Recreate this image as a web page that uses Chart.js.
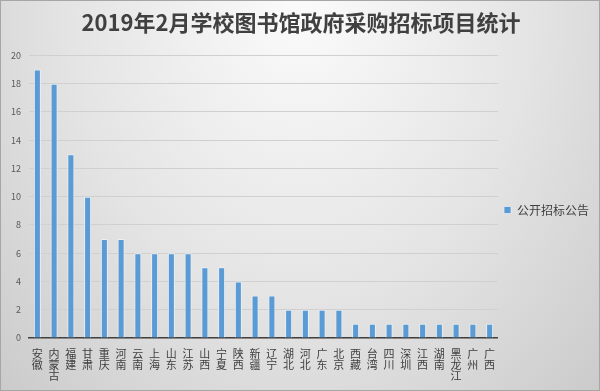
<!DOCTYPE html>
<html>
<head>
<meta charset="utf-8">
<script src="https://cdn.jsdelivr.net/npm/chart.js@4"></script>
<style>
  html, body { margin: 0; padding: 0; }
  #wrap {
    position: relative;
    width: 598px; height: 389px;
    border: 1px solid #a6a6a6;
    background: radial-gradient(ellipse at 50% 0%, #fbfbfb 0%, #e4e4e4 55%, #cbcbcb 100%);
  }
</style>
</head>
<body>
<div id="wrap"><canvas id="chart" width="598" height="389"></canvas></div>
<script>
'use strict';

// ─── 데이터 ──────────────────────────────────────────────
const TITLE = '2019年2月学校图书馆政府采购招标项目统计';
const SERIES_NAME = '公开招标公告';
const REGIONS = ['安徽', '内蒙古', '福建', '甘肃', '重庆', '河南', '云南', '上海', '山东', '江苏',
  '山西', '宁夏', '陕西', '新疆', '辽宁', '湖北', '河北', '广东', '北京', '西藏',
  '台湾', '四川', '深圳', '江西', '湖南', '黑龙江', '广州', '广西'];
const COUNTS = [19, 18, 13, 10, 7, 7, 6, 6, 6, 6,
  5, 5, 4, 3, 3, 2, 2, 2, 2, 1,
  1, 1, 1, 1, 1, 1, 1, 1];
const Y_MAX = 20;
const Y_STEP = 2;

const FONT = '"Noto Sans CJK SC", "Noto Sans", sans-serif';
const BAR_COLOR = '#5b9bd5';

// 세로쓰기: 글자마다 줄바꿈
const labels = REGIONS.map(s => s.split(''));

new Chart(document.getElementById('chart'), {
  type: 'bar',
  data: {
    labels,
    datasets: [{
      label: SERIES_NAME,
      data: COUNTS,
      backgroundColor: BAR_COLOR,
      borderColor: '#e8eef6',
      borderWidth: { left: 1, right: 1, top: 1, bottom: 0 },
      categoryPercentage: 1,
      barPercentage: 0.42
    }]
  },
  options: {
    responsive: false,
    animation: false,
    layout: { padding: { left: 2, right: 0, top: 0, bottom: 7 } },
    plugins: {
      title: {
        display: true,
        text: TITLE,
        color: '#404040',
        font: { family: FONT, size: 22, weight: 'bold' },
        padding: { top: 8, bottom: 20 }
      },
      legend: {
        position: 'right',
        // 빈 제목으로 범례를 약간 아래로 내림
        title: {
          display: true,
          text: '',
          font: { size: 10 },
          padding: { top: 0, bottom: 24 }
        },
        labels: {
          color: '#404040',
          font: { family: FONT, size: 12 },
          boxWidth: 7,
          boxHeight: 7,
          padding: 6
        }
      },
      tooltip: { enabled: false }
    },
    scales: {
      x: {
        grid: { display: false },
        border: { color: '#404040', width: 1.5 },
        ticks: {
          color: '#404040',
          font: { family: FONT, size: 11, lineHeight: 1.0 },
          maxRotation: 0,
          autoSkip: false,
          padding: 2
        }
      },
      y: {
        min: 0,
        max: Y_MAX,
        border: { display: false },
        grid: { color: '#d0d0d0', drawTicks: false },
        ticks: {
          stepSize: Y_STEP,
          color: '#595959',
          font: { family: FONT, size: 9 },
          padding: 8
        }
      }
    }
  }
});
</script>
</body>
</html>
